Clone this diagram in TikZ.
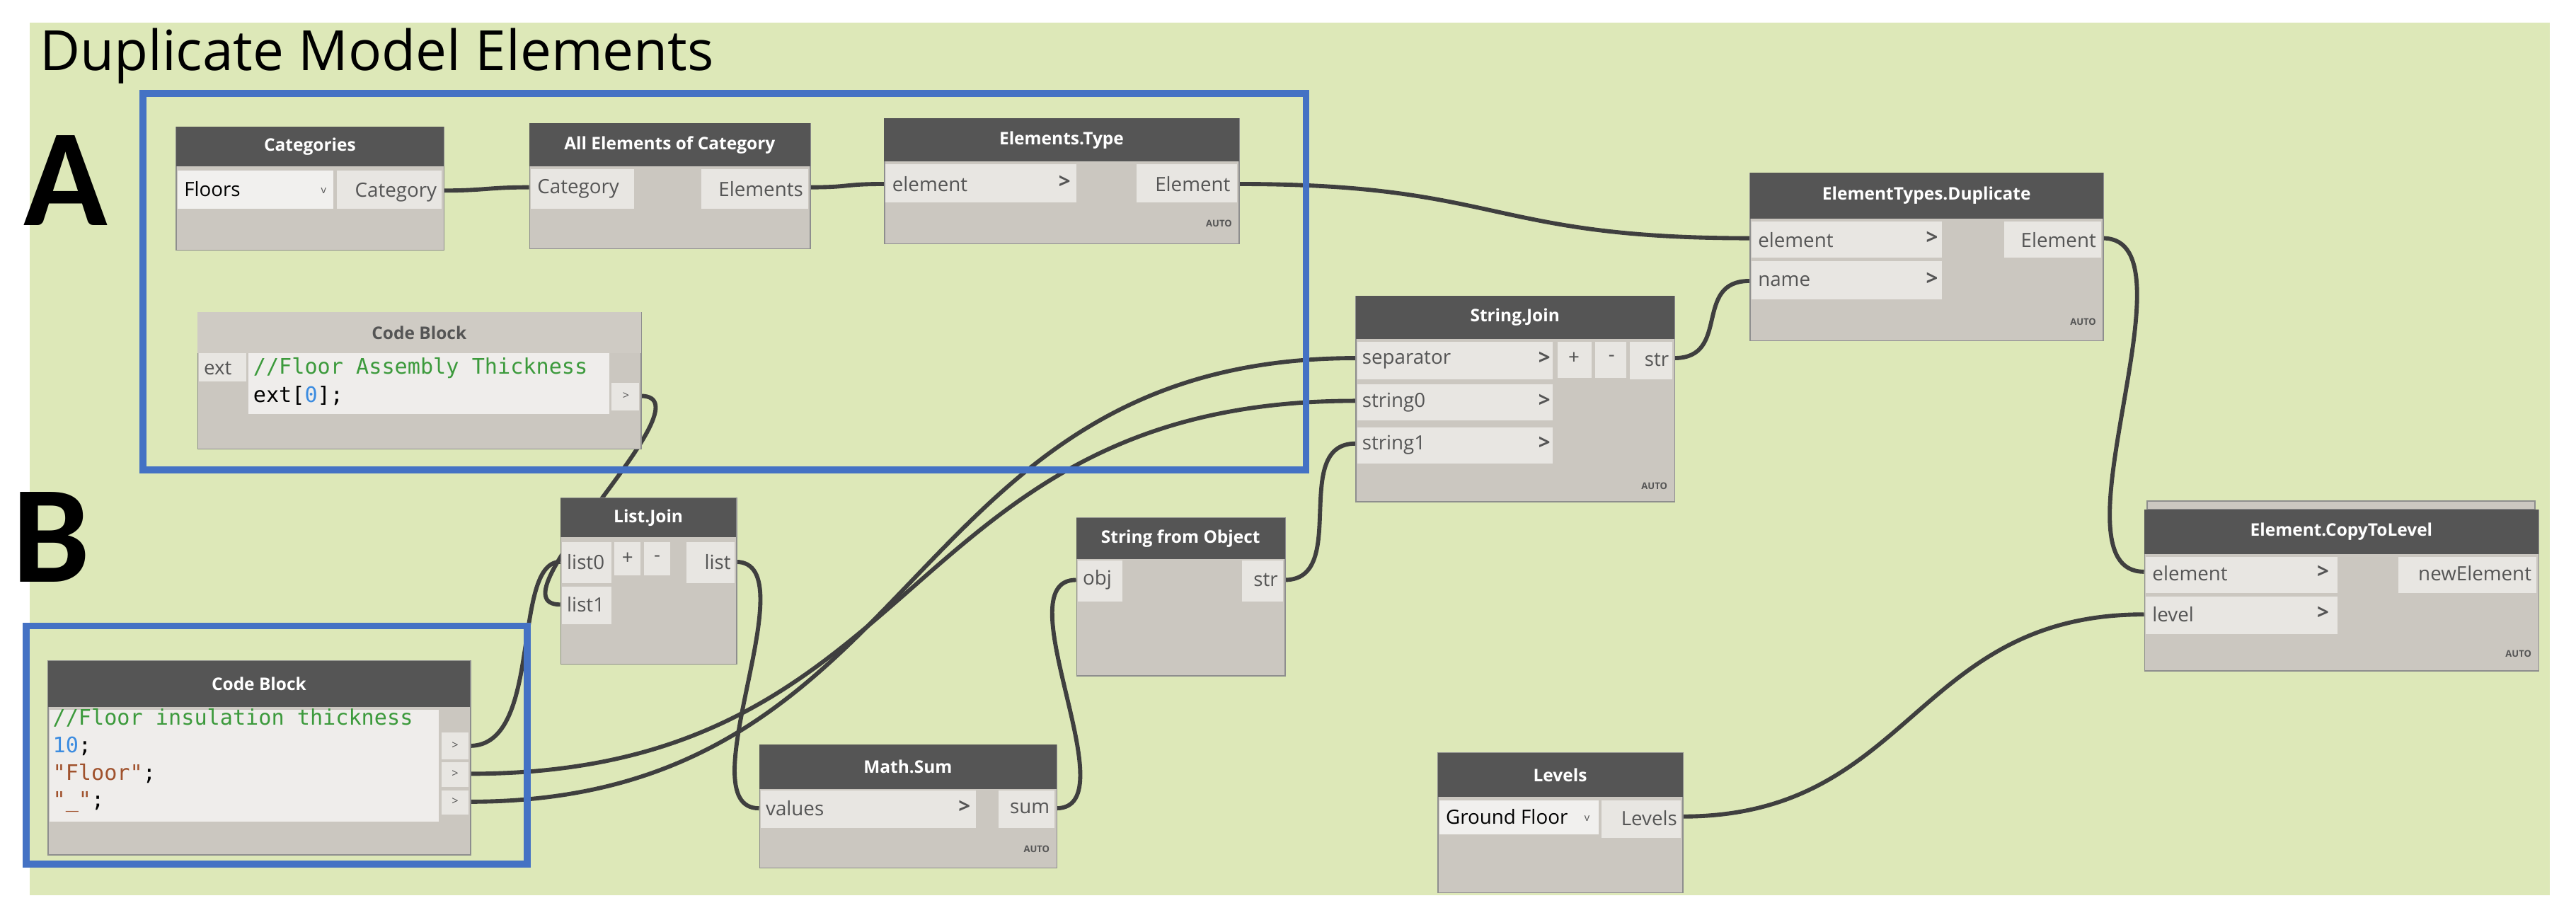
\documentclass[tikz,border=0pt]{standalone}
\usepackage{fontspec}
\setmainfont{Open Sans}
\setsansfont{Open Sans}
\setmonofont{DejaVu Sans Mono}
\newfontfamily\bigf{Carlito}
\begin{document}
\definecolor{bgc}{HTML}{DDE8B8}
\definecolor{headc}{HTML}{555555}
\definecolor{lighthead}{HTML}{CFCBC4}
\definecolor{bodyc}{HTML}{CBC7C0}
\definecolor{rowc}{HTML}{E8E6E2}
\definecolor{bord}{HTML}{8E8E8E}
\definecolor{txtc}{HTML}{555555}
\definecolor{wirec}{HTML}{3F3F3F}
\definecolor{bluec}{HTML}{4472C4}
\definecolor{cgreen}{HTML}{3C9A3C}
\definecolor{cblue}{HTML}{3C8CE0}
\definecolor{cbrown}{HTML}{A0522D}
\newcommand\dyn[7]{%
 \node[dbody, minimum width={(#4-#2)*0.05cm}, minimum height={(#6-#3)*0.05cm}] (#1) at (#2,#3) {};
 \node[dhead, minimum width={(#4-#2)*0.05cm}, minimum height={(#5-#3)*0.05cm}] (#1h) at (#2,#3) {#7};}
\newcommand\fld[4]{\fill[rowc] (#1,#2) rectangle (#3,#4);}
\begin{tikzpicture}[x=0.05cm,y=-0.05cm,
 dbody/.style={draw=bord, fill=bodyc, line width=1pt, inner sep=0pt, anchor=north west},
 dhead/.style={fill=headc, text=white, inner sep=0pt, anchor=north west, font=\bfseries\fontsize{15}{15}\selectfont},
 lbl/.style={text=txtc, inner sep=0pt, font=\fontsize{17}{17}\selectfont},
 arr/.style={text=txtc, inner sep=0pt, font=\bfseries\fontsize{18}{18}\selectfont},
 auto/.style={text=txtc, inner sep=0pt, anchor=east, font=\bfseries\fontsize{8}{8}\selectfont},
 code/.style={inner sep=0pt, anchor=west, font=\ttfamily\fontsize{18.5}{18.5}\selectfont},
 wire/.style={draw=wirec, line width=3.6pt},
 blue/.style={draw=bluec, line width=6pt}]
\useasboundingbox (0,0) rectangle (1568,560);
\fill[white] (0,0) rectangle (1568,560);
\fill[bgc] (18,14) rectangle (1552,545);
\node[anchor=west, inner sep=0pt, font=\fontsize{48}{48}\selectfont] (title) at (24,34) {Duplicate Model Elements};

% port coordinates
\coordinate (catO) at (270,116);
\coordinate (aeI) at (322,114);
\coordinate (aeO) at (493,114);
\coordinate (etI) at (538,112);
\coordinate (etO) at (754,112);
\coordinate (cbaO) at (390,241);
\coordinate (dupI1) at (1065,145);
\coordinate (dupI2) at (1065,171);
\coordinate (dupO) at (1280,145);
\coordinate (sjI1) at (825,218);
\coordinate (sjI2) at (825,244);
\coordinate (sjI3) at (825,270);
\coordinate (sjO) at (1019,218);
\coordinate (ljI1) at (341,342);
\coordinate (ljI2) at (341,368);
\coordinate (ljO) at (448,342);
\coordinate (sfoI) at (655,353);
\coordinate (sfoO) at (782,353);
\coordinate (cbO1) at (286,454);
\coordinate (cbO2) at (286,471);
\coordinate (cbO3) at (286,488);
\coordinate (msI) at (462,492);
\coordinate (msO) at (643,492);
\coordinate (lvO) at (1024,497);
\coordinate (ctlI1) at (1305,348);
\coordinate (ctlI2) at (1305,374);

% wires
\draw[wire] (catO) .. controls +(25,0) and +(-25,0) .. (aeI);
\draw[wire] (aeO) .. controls +(25,0) and +(-25,0) .. (etI);
\draw[wire] (etO) .. controls +(160,0) and +(-160,0) .. (dupI1);
\draw[wire] (sjO) .. controls +(35,0) and +(-35,0) .. (dupI2);
\draw[wire] (dupO) .. controls +(60,0) and +(-60,0) .. (ctlI1);
\draw[wire] (lvO) .. controls +(140,0) and +(-140,0) .. (ctlI2);
\draw[wire] (cbaO) .. controls +(45,0) and +(-45,0) .. (ljI2);
\draw[wire] (cbO1) .. controls +(45,0) and +(-30,0) .. (ljI1);
\draw[wire] (ljO) .. controls +(45,0) and +(-45,0) .. (msI);
\draw[wire] (msO) .. controls +(45,0) and +(-45,0) .. (sfoI);
\draw[wire] (sfoO) .. controls +(40,0) and +(-40,0) .. (sjI3);
\draw[wire] (cbO2) .. controls +(280,0) and +(-280,0) .. (sjI2);
\draw[wire] (cbO3) .. controls +(280,0) and +(-280,0) .. (sjI1);

% blue frames
\draw[blue] (87,57) rectangle (795,286);
\draw[blue] (16,381) rectangle (321,526);
\node[anchor=center, inner sep=0pt, font=\bigf\bfseries\fontsize{120}{120}\selectfont] (A) at (40,110) {A};
\node[anchor=center, inner sep=0pt, font=\bigf\bfseries\fontsize{120}{120}\selectfont] (B) at (31,327) {B};

% Categories
\dyn{cat}{107}{77}{270}{101}{152}{Categories}
\fill[rowc!60!white] (108,104) rectangle (203,127);
\node[lbl, anchor=west, text=black] (catv) at (112,115) {Floors};
\node[lbl, font=\fontsize{9}{9}\selectfont] (catd) at (197,116) {v};
\fld{205}{104}{269}{127}
\node[lbl, anchor=east] (catl) at (266,117) {Category};

% All Elements of Category
\dyn{ae}{322}{75}{493}{101}{151}{All Elements of Category}
\fld{323}{103}{386}{127}
\fld{427}{103}{492}{127}
\node[lbl, anchor=west] (ael1) at (327,115) {Category};
\node[lbl, anchor=east] (ael2) at (489,115) {Elements};

% Elements.Type
\dyn{et}{538}{72}{754}{98}{148}{Elements.Type}
\fld{539}{100}{655}{123}
\fld{692}{100}{753}{123}
\node[lbl, anchor=west] (etl1) at (543,112) {element};
\node[arr] (eta) at (648,111) {\textgreater};
\node[lbl, anchor=east] (etl2) at (749,112) {Element};
\node[auto] (etauto) at (750,136) {AUTO};

% Code Block A
\node[dbody, minimum width={270*0.05cm}, minimum height={83*0.05cm}] (cba) at (120,190) {};
\node[anchor=north west, fill=lighthead, inner sep=0pt, minimum width={270*0.05cm}, minimum height={25*0.05cm}, text=txtc, font=\bfseries\fontsize{15}{15}\selectfont] (cbah) at (120,190) {Code Block};
\fill[rowc] (121,215) rectangle (150,232);
\fill[rowc!70!white] (151,215) rectangle (371,252);
\fill[rowc] (372,233) rectangle (389,250);
\node[lbl, anchor=west] (ext) at (124,224) {ext};
\node[code, text=cgreen] (cba1) at (154,224) {//Floor Assembly Thickness};
\node[code, text=black] (cba2) at (154,241) {ext[\textcolor{cblue}{0}];};
\node[lbl, font=\fontsize{10}{10}\selectfont] (cbaa) at (381,241) {\textgreater};

% ElementTypes.Duplicate
\dyn{dup}{1065}{105}{1280}{133}{207}{ElementTypes.Duplicate}
\fld{1066}{135}{1182}{157}
\fld{1066}{159}{1182}{182}
\fld{1220}{135}{1279}{157}
\node[lbl, anchor=west] (dupl1) at (1070,146) {element};
\node[lbl, anchor=west] (dupl2) at (1070,171) {name};
\node[arr] (dupa1) at (1176,145) {\textgreater};
\node[arr] (dupa2) at (1176,170) {\textgreater};
\node[lbl, anchor=east] (dupl3) at (1276,146) {Element};
\node[auto] (dupauto) at (1276,196) {AUTO};

% String.Join
\dyn{sj}{825}{180}{1019}{206}{305}{String.Join}
\fld{826}{208}{945}{231}
\fld{826}{234}{945}{256}
\fld{826}{260}{945}{282}
\fld{948}{208}{969}{230}
\fld{971}{208}{990}{230}
\fld{992}{208}{1018}{231}
\node[lbl, anchor=west] (sjl1) at (829,219) {separator};
\node[lbl, anchor=west] (sjl2) at (829,245) {string0};
\node[lbl, anchor=west] (sjl3) at (829,271) {string1};
\node[arr] (sja1) at (940,218) {\textgreater};
\node[arr] (sja2) at (940,244) {\textgreater};
\node[arr] (sja3) at (940,270) {\textgreater};
\node[lbl] (sjp) at (958,218) {+};
\node[lbl] (sjm) at (981,218) {-};
\node[lbl, anchor=east] (sjl4) at (1016,219) {str};
\node[auto] (sjauto) at (1015,296) {AUTO};

% List.Join
\dyn{lj}{341}{303}{448}{327}{404}{List.Join}
\fld{342}{330}{372}{355}
\fld{374}{330}{390}{350}
\fld{392}{330}{408}{350}
\fld{418}{330}{447}{355}
\fld{342}{357}{372}{380}
\node[lbl, anchor=west] (ljl1) at (345,342) {list0};
\node[lbl, anchor=west] (ljl2) at (345,368) {list1};
\node[lbl] (ljp) at (382,340) {+};
\node[lbl] (ljm) at (400,340) {-};
\node[lbl, anchor=east] (ljl3) at (445,342) {list};

% String from Object
\dyn{sfo}{655}{315}{782}{340}{411}{String from Object}
\fld{656}{341}{683}{366}
\fld{756}{341}{781}{366}
\node[lbl, anchor=west] (sfol1) at (659,353) {obj};
\node[lbl, anchor=east] (sfol2) at (778,353) {str};

% Code Block B
\dyn{cbb}{29}{402}{286}{430}{520}{Code Block}
\fill[rowc!70!white] (30,432) rectangle (267,500);
\fld{269}{446}{285}{462}
\fld{269}{464}{285}{479}
\fld{269}{481}{285}{496}
\node[code, text=cgreen] (cbb1) at (32,437) {//Floor insulation thickness};
\node[code, text=black] (cbb2) at (32,454) {\textcolor{cblue}{10};};
\node[code, text=black] (cbb3) at (32,471) {\textcolor{cbrown}{"Floor"};};
\node[code, text=black] (cbb4) at (32,488) {\textcolor{cbrown}{"\_"};};
\node[lbl, font=\fontsize{10}{10}\selectfont] (cbba1) at (277,454) {\textgreater};
\node[lbl, font=\fontsize{10}{10}\selectfont] (cbba2) at (277,471) {\textgreater};
\node[lbl, font=\fontsize{10}{10}\selectfont] (cbba3) at (277,488) {\textgreater};

% Math.Sum
\dyn{ms}{462}{453}{643}{480}{528}{Math.Sum}
\fld{463}{481}{594}{504}
\fld{608}{481}{642}{504}
\node[lbl, anchor=west] (msl1) at (466,492) {values};
\node[arr] (msa) at (587,491) {\textgreater};
\node[lbl, anchor=east] (msl2) at (639,492) {sum};
\node[auto] (msauto) at (639,517) {AUTO};

% Levels
\dyn{lv}{875}{458}{1024}{485}{543}{Levels}
\fill[rowc!60!white] (876,487) rectangle (973,508);
\fld{975}{487}{1023}{510}
\node[lbl, anchor=west, text=black] (lvv) at (880,497) {Ground Floor};
\node[lbl, font=\fontsize{9}{9}\selectfont] (lvd) at (966,498) {v};
\node[lbl, anchor=east] (lvl) at (1021,498) {Levels};

% Element.CopyToLevel
\draw[bord, line width=1pt, fill=bodyc] (1307,305) rectangle (1543,310);
\dyn{ctl}{1305}{310}{1545}{337}{408}{Element.CopyToLevel}
\fld{1306}{339}{1423}{361}
\fld{1306}{363}{1423}{386}
\fld{1460}{339}{1544}{361}
\node[lbl, anchor=west] (ctll1) at (1310,349) {element};
\node[lbl, anchor=west] (ctll2) at (1310,374) {level};
\node[arr] (ctla1) at (1414,348) {\textgreater};
\node[arr] (ctla2) at (1414,373) {\textgreater};
\node[lbl, anchor=east] (ctll3) at (1541,349) {newElement};
\node[auto] (ctlauto) at (1541,398) {AUTO};
\end{tikzpicture}
\end{document}
